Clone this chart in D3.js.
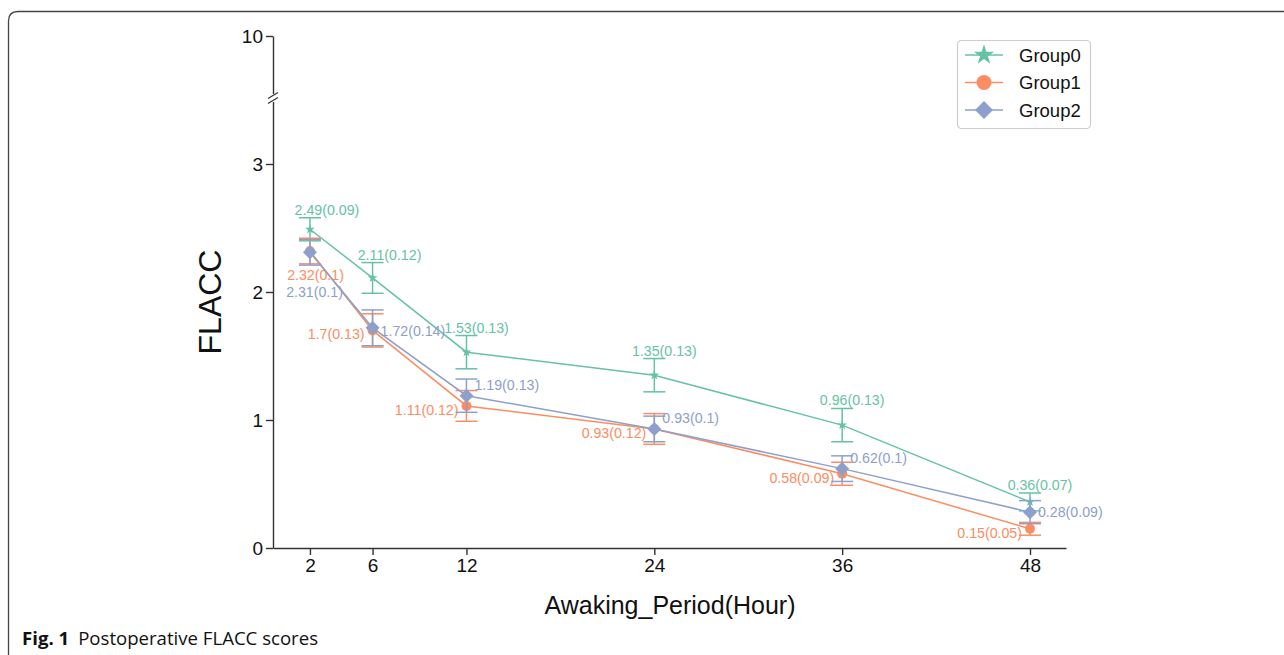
<!DOCTYPE html>
<html><head><meta charset="utf-8">
<script src="https://cdn.jsdelivr.net/npm/d3@7"></script>
<style>body{margin:0;background:#fff;} svg{display:block;}</style>
</head><body>
<svg id="c" width="1284" height="655"></svg>
<script>
const hours = [2, 6, 12, 24, 36, 48];
const groupNames = ["Group0", "Group1", "Group2"];
const group0Mean = [2.49, 2.11, 1.53, 1.35, 0.96, 0.36];
const group0SE   = [0.09, 0.12, 0.13, 0.13, 0.13, 0.07];
const group1Mean = [2.32, 1.7, 1.11, 0.93, 0.58, 0.15];
const group1SE   = [0.1, 0.13, 0.12, 0.12, 0.09, 0.05];
const group2Mean = [2.31, 1.72, 1.19, 0.93, 0.62, 0.28];
const group2SE   = [0.1, 0.14, 0.13, 0.1, 0.1, 0.09];
const yTicks = [0, 1, 2, 3, 10];
const colors = ["#66c2a5", "#fc8d62", "#8da0cb"];

const svg = d3.select("#c");
const font = "Arial, 'Liberation Sans', sans-serif";

// frame
svg.append("path").attr("d", "M8.5,655 L8.5,21 Q8.5,11.5 18,11.5 L1284,11.5")
  .attr("fill", "none").attr("stroke", "#444").attr("stroke-width", 1.3);

const x = d3.scaleLinear().domain([-0.36, 50.3]).range([273, 1066]);
const y = d3.scaleLinear().domain([0, 3, 10]).range([548, 164, 36]);

const gx = svg.append("g").attr("transform", "translate(0,548)")
  .call(d3.axisBottom(x).tickValues(hours).tickSize(7).tickPadding(4).tickSizeOuter(0));
const gy = svg.append("g").attr("transform", "translate(273,0)")
  .call(d3.axisLeft(y).tickValues(yTicks).tickSize(7).tickPadding(3).tickSizeOuter(0));
[gx, gy].forEach(g => {
  g.selectAll("path.domain,line").attr("stroke", "#333").attr("stroke-width", 1.4);
  g.selectAll("text").attr("font-family", font).attr("font-size", 19).attr("fill", "#111");
});
// axis break
const by = 98;
svg.append("rect").attr("x", 268).attr("y", by - 4).attr("width", 10).attr("height", 8).attr("fill", "#fff");
[-2.5, 2.5].forEach(o => {
  svg.append("line").attr("x1", 268).attr("y1", by + o + 3).attr("x2", 278).attr("y2", by + o - 3)
    .attr("stroke", "#333").attr("stroke-width", 1.2);
});

// titles
svg.append("text").attr("x", 670).attr("y", 614).attr("text-anchor", "middle")
  .attr("font-family", font).attr("font-size", 25).attr("fill", "#111").text("Awaking_Period(Hour)");
svg.append("text").attr("transform", "translate(221,302) rotate(-90)").attr("text-anchor", "middle")
  .attr("font-family", font).attr("font-size", 32).attr("fill", "#111").text("FLACC");

// caption
const cap = svg.append("text").attr("x", 22).attr("y", 645)
  .attr("font-family", "'Open Sans', 'Noto Sans', sans-serif").attr("font-size", 18.6).attr("fill", "#111");
cap.append("tspan").attr("font-weight", "bold").text("Fig. 1");
cap.append("tspan").attr("dx", 9).text("Postoperative FLACC scores");

const groups = [
  {name: groupNames[0], mean: group0Mean, se: group0SE},
  {name: groupNames[1], mean: group1Mean, se: group1SE},
  {name: groupNames[2], mean: group2Mean, se: group2SE}
];
const star = d3.symbol().type(d3.symbolStar);
const markers = [
  (g, s) => g.append("path").attr("d", star.size(s === "L" ? 130 : 30)()),
  (g, s) => g.append("circle").attr("r", s === "L" ? 7.5 : 5),
  (g, s) => g.append("path").attr("d", s === "L" ? "M0,-9L9,0L0,9L-9,0Z" : "M0,-7L7,0L0,7L-7,0Z")
];
const line = d3.line().x((d, i) => x(hours[i])).y(d => y(d));

groups.forEach((gr, gi) => {
  const c = colors[gi];
  const g = svg.append("g");
  gr.mean.forEach((m, i) => {
    const cx = x(hours[i]);
    const t = y(m + gr.se[i]), b = y(m - gr.se[i]);
    g.append("line").attr("x1", cx).attr("x2", cx).attr("y1", t).attr("y2", b).attr("stroke", c).attr("stroke-width", 1.5);
    [t, b].forEach(yy => g.append("line").attr("x1", cx - 11).attr("x2", cx + 11).attr("y1", yy).attr("y2", yy)
      .attr("stroke", c).attr("stroke-width", 1.5));
  });
  g.append("path").datum(gr.mean).attr("d", line).attr("fill", "none").attr("stroke", c).attr("stroke-width", 1.5);
  gr.mean.forEach((m, i) => {
    const mg = g.append("g").attr("transform", `translate(${x(hours[i])},${y(m)})`).attr("fill", c);
    markers[gi](mg, "S");
  });
  // labels
  gr.mean.forEach((m, i) => {
    const cx = x(hours[i]), cy = y(m);
    let lx, ly, anchor;
    if (gi === 0) { lx = cx + (i < 2 ? 17 : 10); ly = y(m + gr.se[i]) - 3; anchor = "middle"; }
    else if (gi === 1) { lx = cx - 8; ly = cy + 9; anchor = "end"; if (i === 0) { lx = cx + 34; ly = cy + 29; anchor = "end"; } }
    else { lx = cx + 8; ly = cy - 1; anchor = "start"; if (i === 0) { lx = cx + 33; ly = cy + 45; anchor = "end"; } if (i >= 2) ly = cy - 1 - 5; if (i === 5) ly = cy + 5; if (i === 1) ly = cy + 8; }
    svg.append("text").attr("x", lx).attr("y", ly).attr("text-anchor", anchor)
      .attr("font-family", font).attr("font-size", 14.2).attr("fill", c)
      .text(`${m}(${gr.se[i]})`);
  });
});

// legend
const lg = svg.append("g").attr("transform", "translate(957,40)");
lg.append("rect").attr("x", 0.5).attr("y", 0.5).attr("width", 133).attr("height", 88).attr("rx", 4)
  .attr("fill", "#fff").attr("stroke", "#ccc").attr("stroke-width", 1.2);
groups.forEach((gr, gi) => {
  const yy = 15 + gi * 27.5;
  lg.append("line").attr("x1", 8).attr("x2", 46).attr("y1", yy).attr("y2", yy).attr("stroke", colors[gi]).attr("stroke-width", 1.5);
  const mg = lg.append("g").attr("transform", `translate(27,${yy})`).attr("fill", colors[gi]);
  markers[gi](mg, "L");
  lg.append("text").attr("x", 62).attr("y", yy + 6.5).attr("font-family", font).attr("font-size", 18.5).attr("fill", "#111").text(gr.name);
});
</script>
</body></html>
